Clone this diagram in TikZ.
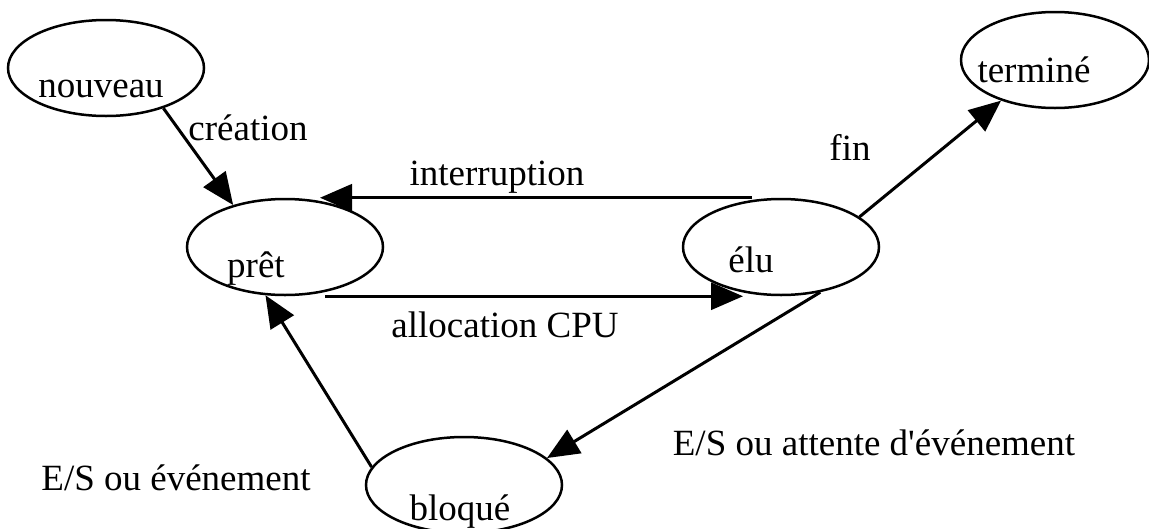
\documentclass[tikz,border=0pt]{standalone}
\usepackage{fontspec}
\setmainfont{Liberation Serif}
\usetikzlibrary{arrows.meta,shapes.geometric}

\begin{document}
\begin{tikzpicture}[
  x=1pt, y=-1pt,
  state/.style={
    draw,
    ellipse,
    line width=2.5pt,
    minimum width=196pt,
    minimum height=96pt,
    inner sep=0pt
    },
  txt/.style={
    anchor=base,
    inner sep=0pt,
    font=\fontsize{37}{44}\selectfont
    },
  arr/.style={
    line width=3pt,
    -{Triangle[length=32pt,width=27pt]}
  }
]
\useasboundingbox (0,0) rectangle (1149,528);

% states
\node[state] (nouveau) at (106,68) {};
\node[state] (pret) at (285,247) {};
\node[state] (elu) at (781,247) {};
\node[state, minimum width=188pt] (termine) at (1055,60) {};
\node[state] (bloque) at (464,485) {};

\node[txt] (nouveau-t) at (101,97) {nouveau};
\node[txt] (pret-t) at (256,277) {prêt};
\node[txt] (elu-t) at (751,272) {élu};
\node[txt] (termine-t) at (1034,82) {terminé};
\node[txt] (bloque-t) at (460,520) {bloqué};

% transitions
\draw[arr] (nouveau.-35) -- (pret.141);
\draw[arr] ([xshift=-29pt]elu.north) -- ([xshift=35pt]pret.north);
\draw[arr] ([xshift=40pt]pret.south) -- ([xshift=-38pt]elu.south);
\draw[arr] (elu.21) -- (termine.-143);
\draw[arr] (elu.-49) -- (bloque.18);
\draw[arr] (bloque.169) -- (pret.-112);

% labels
\node[txt] (creation-l) at (248,140) {création};
\node[txt] (interruption-l) at (497,185) {interruption};
\node[txt] (allocation-l) at (505,337) {allocation CPU};
\node[txt] (fin-l) at (850,160) {fin};
\node[txt] (attente-l) at (874,455) {E/S ou attente d\textquotesingle événement};
\node[txt] (evenement-l) at (176,490) {E/S ou événement};

\end{tikzpicture}
\end{document}
